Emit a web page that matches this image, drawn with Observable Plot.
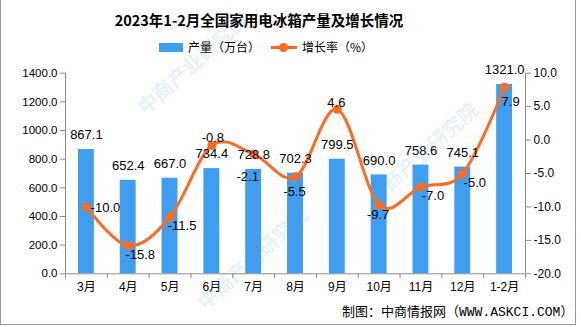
<!DOCTYPE html>
<html>
<head>
<meta charset="utf-8">
<script src="https://cdn.jsdelivr.net/npm/d3@7"></script>
<script src="https://cdn.jsdelivr.net/npm/@observablehq/plot@0.6"></script>
<style>
  body { margin: 0; background: #fff; }
  #wrap { position: relative; width: 581px; height: 327px; overflow: hidden; background: #fff;
          font-family: "Liberation Sans", "Noto Sans CJK SC", sans-serif; color: #000; }
  .abs { position: absolute; white-space: nowrap; }
  #border { left: 0; top: -2px; width: 574px; height: 325px; border: 1px solid #9a9a9a; }
  #title { top: 10px; left: 0; width: 518px; text-align: center; font-family: "Noto Sans CJK SC", sans-serif;
           font-weight: 700; font-size: 14.5px; line-height: 20px; }
  .leg { top: 39px; font-family: "Noto Sans CJK SC", sans-serif; font-size: 12px; line-height: 16px; }
  #chart { left: 0; top: 60px; }
  #caption { top: 304px; left: 342px; font-family: "Liberation Mono", "Noto Sans CJK SC", monospace; font-size: 13px; line-height: 18px; }
  .wm { font-family: "Noto Sans CJK SC", sans-serif; font-weight: 700; font-size: 20px; color: rgba(90,160,225,0.16);
        transform: rotate(-42deg); transform-origin: left center; pointer-events: none; }
</style>
</head>
<body>
<div id="wrap">
  <div id="border" class="abs"></div>
  <div id="title" class="abs">2023年1-2月全国家用电冰箱产量及增长情况</div>
  <div class="abs" style="left:159px;top:43px;width:24px;height:9px;background:#409EF0"></div>
  <div class="abs leg" style="left:188px">产量（万台）</div>
  <div class="abs" style="left:271px;top:46px;width:26px;height:3px;background:#FF6A21"></div>
  <div class="abs" style="left:279px;top:43px;width:9px;height:9px;border-radius:50%;background:#FF6A21"></div>
  <div class="abs leg" style="left:302px">增长率（%）</div>
  <div id="chart" class="abs"></div>
  <div id="caption" class="abs">制图：中商情报网（WWW.ASKCI.COM）</div>
  <div class="abs wm" style="left:140px;top:95px">中商产业研究院</div>
  <div class="abs wm" style="left:200px;top:290px">中商产业研究院</div>
  <div class="abs wm" style="left:370px;top:185px">中商产业研究院</div>
</div>
<script>
const months = ["3月","4月","5月","6月","7月","8月","9月","10月","11月","12月","1-2月"];
const output = [867.1, 652.4, 667.0, 734.4, 728.8, 702.3, 799.5, 690.0, 758.6, 745.1, 1321.0];
const growth = [-10.0, -15.8, -11.5, -0.8, -2.1, -5.5, 4.6, -9.7, -7.0, -5.0, 7.9];
const leftTicks = [0, 200, 400, 600, 800, 1000, 1200, 1400];
const rightTicks = [-20, -15, -10, -5, 0, 5, 10];
const growthLabelPlace = ["right","belowRight","belowRight","above","belowLeft","below","aboveNear","belowNear","belowRight","belowRight","belowFar"];

const placeOffsets = {
  right: [19, 1], belowRight: [12, 9], above: [1, -8], belowLeft: [-6, 23],
  below: [-1, 15], aboveNear: [-1, -6], belowNear: [-1, 10], belowFar: [6, 15]
};

const LEFT_MAX = 1400, R_MIN = -20, R_MAX = 10;
const toLeft = g => (g - R_MIN) / (R_MAX - R_MIN) * LEFT_MAX;
const fromLeft = v => v / LEFT_MAX * (R_MAX - R_MIN) + R_MIN;

const data = months.map((m, i) => ({i, month: m, output: output[i], growth: growth[i], gl: toLeft(growth[i]), place: growthLabelPlace[i]}));

const BAR = "#409EF0", LINE = "#FF6A21", AXIS = "#8c8c8c";
const halfBar = 0.19;

const growthTextMarks = Object.entries(placeOffsets).map(([name, [dx, dy]]) =>
  Plot.text(data.filter(d => d.place === name), {
    x: "i", y: "gl", text: d => d.growth.toFixed(1), dx, dy, fontSize: 13, fill: "#000"
  })
);

const chart = Plot.plot({
  width: 581,
  height: 240,
  marginTop: 12.7,
  marginBottom: 26.7,
  marginLeft: 65,
  marginRight: 56,
  x: {type: "linear", domain: [-0.5, 10.5], axis: null, label: null},
  y: {type: "linear", domain: [0, LEFT_MAX], axis: null, label: null},
  style: {fontFamily: '"Liberation Sans", "Noto Sans CJK SC", sans-serif', fontSize: "12px", background: "transparent", color: "#000", overflow: "visible"},
  marks: [
    Plot.rectY(data, {x1: d => d.i - halfBar, x2: d => d.i + halfBar, y: "output", fill: BAR}),
    Plot.ruleX([-0.5, 10.5], {stroke: AXIS}),
    Plot.ruleY([0], {stroke: AXIS}),
    Plot.axisY({anchor: "left", label: null, ticks: leftTicks, tickFormat: d => d.toFixed(1), tickSize: 5, tickPadding: 3, stroke: AXIS, fill: "#000", fontSize: 11.5}),
    Plot.axisY({anchor: "right", label: null, ticks: rightTicks.map(toLeft), tickFormat: v => (Math.round(fromLeft(v) * 10) / 10).toFixed(1), tickSize: 5, tickPadding: 3, stroke: AXIS, fill: "#000", fontSize: 12}),
    Plot.axisX({label: null, ticks: d3.range(-0.5, 11, 1), tickSize: 5, tickFormat: () => "", stroke: AXIS}),
    Plot.axisX({label: null, ticks: d3.range(0, 11), tickSize: 0, tickPadding: 9, tickFormat: i => months[i], fill: "#000", fontSize: 12}),
    Plot.lineY(data, {x: "i", y: "gl", curve: "cardinal", stroke: LINE, strokeWidth: 3}),
    Plot.dot(data, {x: "i", y: "gl", r: 4.5, fill: LINE, stroke: null}),
    Plot.text(data, {x: "i", y: "output", text: d => d.output.toFixed(1), dy: -14.5, fontSize: 13, fill: "#000"}),
    ...growthTextMarks
  ]
});
document.getElementById("chart").appendChild(chart);
</script>
</body>
</html>
